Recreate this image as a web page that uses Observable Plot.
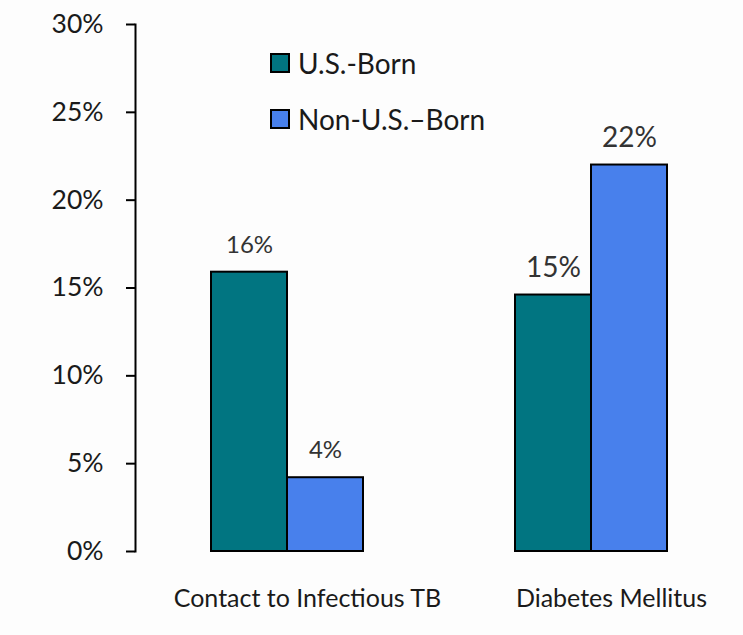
<!DOCTYPE html>
<html>
<head>
<meta charset="utf-8">
<script src="https://cdn.jsdelivr.net/npm/d3@7"></script>
<script src="https://cdn.jsdelivr.net/npm/@observablehq/plot@0.6"></script>
<style>
  html, body { margin: 0; padding: 0; background: #fdfdfd; }
  #wrap { position: relative; width: 743px; height: 635px; font-family: Lato, "Open Sans", sans-serif; }
  #legend { position: absolute; left: 270px; top: 49px; font-size: 28px; color: #1a1a1a; }
  .item { display: flex; align-items: center; height: 28px; margin-bottom: 28px; }
  .sw { width: 16px; height: 16px; border: 2px solid #000; margin-right: 8px; }
</style>
</head>
<body>
<div id="wrap"></div>
<script>
const categories = ["Contact to Infectious TB", "Diabetes Mellitus"];
const series = ["U.S.-Born", "Non-U.S.–Born"];
const usBorn = [15.9, 14.6];
const nonUsBorn = [4.2, 22.0];
const valueLabels = [["16%", "4%"], ["15%", "22%"]];
const yTicks = [0, 5, 10, 15, 20, 25, 30];
const colors = ["#017581", "#4880EC"];

const data = categories.flatMap((c, i) => [
  {category: c, series: series[0], value: usBorn[i], label: valueLabels[i][0]},
  {category: c, series: series[1], value: nonUsBorn[i], label: valueLabels[i][1]}
]);

const chart = Plot.plot({
  width: 743,
  height: 635,
  marginLeft: 135,
  marginRight: 0,
  marginTop: 24,
  marginBottom: 84,
  style: {fontFamily: "Lato, 'Open Sans', sans-serif", background: "transparent", color: "#1a1a1a", overflow: "visible"},
  fx: {domain: categories, padding: 0, label: null},
  x: {domain: series, paddingInner: 0, paddingOuter: 1, axis: null},
  y: {domain: [0, 30]},
  color: {domain: series, range: colors},
  marks: [
    Plot.barY(data, {fx: "category", x: "series", y: "value", fill: "series", stroke: "#000", strokeWidth: 2}),
    Plot.text(data, {fx: "category", x: "series", y: "value", text: "label", dy: -27,
      fontSize: d => d.category === categories[0] ? 24 : 28, fill: "#333"}),
    Plot.axisY({ticks: yTicks, tickFormat: d => d + "%", tickSize: 9, tickPadding: 23, fontSize: 26.5, strokeWidth: 2, stroke: "#000", label: null}),
    Plot.frame({anchor: "left", facet: "super", stroke: "#000", strokeWidth: 2}),
    Plot.axisFx({anchor: "bottom", tickSize: 0, tickPadding: 38, dx: 20, fontSize: 25, label: null})
  ]
});

const wrap = document.getElementById("wrap");
wrap.appendChild(chart);

const legend = document.createElement("div");
legend.id = "legend";
series.forEach((s, i) => {
  const item = document.createElement("div");
  item.className = "item";
  const sw = document.createElement("div");
  sw.className = "sw";
  sw.style.background = colors[i];
  const t = document.createElement("span");
  t.textContent = s;
  item.appendChild(sw);
  item.appendChild(t);
  legend.appendChild(item);
});
wrap.appendChild(legend);
</script>
</body>
</html>
